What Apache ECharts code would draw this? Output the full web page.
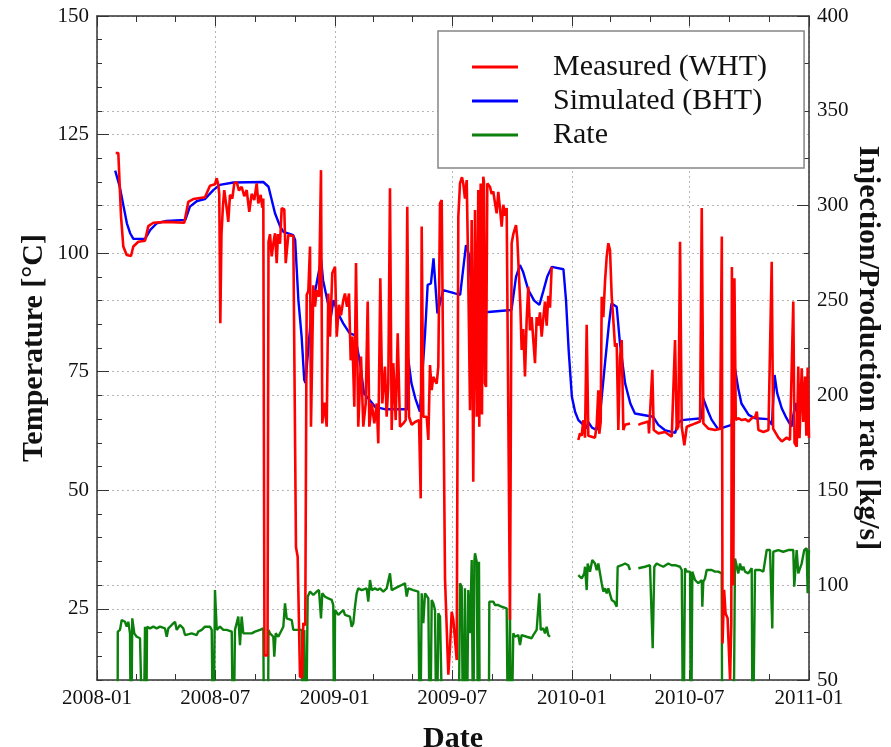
<!DOCTYPE html>
<html>
<head>
<meta charset="utf-8">
<script src="https://cdn.jsdelivr.net/npm/echarts@6/dist/echarts.min.js"></script>
<style>
  html, body { margin: 0; padding: 0; background: #fff; }
  #chart { width: 891px; height: 747px; }
</style>
</head>
<body>
<div id="chart"></div>
<script>
// Monitoring record: each point is [elapsed days since 2008-01-01, value]; null marks a gap in logging.
const START_DATE = '2008-01-01';

// Measured wellhead temperature [°C]
const measuredWHT = [
  [28.8,121.1],[32.8,121.1],[37.0,107.7],[40.5,101.4],[45.7,99.6],[52.3,99.4],[55.9,101.4],[63.6,102.4],[73.9,102.6],
  [79.0,105.7],[86.7,106.4],[106.2,106.6],[134.4,106.4],[140.5,110.8],[148.2,111.4],[166.2,111.8],[173.9,114.2],
  [181.6,114.5],[184.3,115.8],[186.7,114.4],[188.2,112.5],[189.8,85.2],[191.6,104],[193.9,110],[195.9,113.3],
  [199.6,109.5],[202.1,106.6],[204.7,112.3],[208.3,111.5],[211.3,114.7],[215.0,115.0],[218.6,113.2],[222.7,114.0],
  [226.7,112.0],[230.4,113.3],[234.4,108.7],[238.1,112.5],[242.1,111.2],[245.8,114.7],[248.3,110.5],[252.0,112.3],
  [254.4,109.6],[256.0,111.5],[257.8,15.2],[262.5,15.2],[264.0,102.4],[266.3,104.0],[268.9,99.3],[270.9,101.5],
  [274.0,104.2],[276.6,97.9],[278.6,104.0],[281.7,102.0],[284.3,109.5],[288.3,109.2],[290.5,97.9],[294.5,103.8],
  [302.2,103.6],[306.3,38],[308.9,36],[312.5,10.7],[315.6,10.5],[317.6,22],[320.6,21.5],[322.8,91.2],[325.3,92.0],
  [327.9,101.4],[329.4,63.4],[333.0,93.2],[335.6,88.7],[338.2,92.2],[341.7,90.8],[344.8,117.5],[346.8,64.1],
  [349.9,68.5],[353.6,63.4],[356.0,91.5],[358.7,82.4],[362.2,95.8],[366.4,97.1],[369.0,82.4],[372.5,89.1],
  [375.6,86.9],[379.1,90.1],[381.7,91.5],[384.8,88.7],[387.9,91.5],[390.5,77.4],[393.0,82.4],[396.1,67.6],
  [398.7,97.9],[402.2,63.4],[406.4,78.2],[409.9,63.4],[413.6,68.3],[416.7,89.8],[419.2,63.4],[422.9,68.3],
  [426.9,64.1],[430.6,68.3],[433.0,59.9],[436.1,94.7],[439.2,68.3],[443.3,76.1],[445.9,65.5],[448.4,72.5],
  [451.0,113.7],[453.6,62.7],[456.1,76.8],[459.8,64.8],[462.9,83.1],[466.4,63.4],[471.5,64.1],[475.2,64.8],
  [477.6,109.8],[480.3,65.5],[484.4,63.8],[489.5,64.4],[495.7,64.8],[498.3,48.3],[499.8,105.6],[502.3,65.5],
  [507.5,65.5],[510.0,60.6],[512.6,76.4],[515.2,71.1],[517.7,73.9],[522.9,72.5],[525.4,76.1],[528.0,110.5],
  [530.6,111.2],[533.1,111.2],[535.7,31.4],[540.8,11.1],[543.4,17],[546.0,24.4],[548.5,22.7],[553.7,14.2],
  [556.2,107.7],[558.8,114.7],[561.8,116],[563.8,114.7],[566.4,111.5],[569.1,115.4],[571.1,99],[574.2,66.9],
  [576.8,107],[579.2,51.8],[581.9,109.1],[584.5,65.5],[586.9,113.3],[588.5,63.4],[590.6,114.7],[592.6,66],
  [594.6,116.1],[595.7,115],[597.2,72.6],[598.8,71.8],[600.8,114.7],[604.9,114.0],[607.5,112.5],[610.0,113.0],
  [612.6,110.6],[615.2,108.4],[617.7,112.9],[620.3,109.5],[622.9,105.6],[625.4,110.2],[628.0,107.9],[630.6,109.5],
  [633.1,109.1],[635.7,22.7],[638.3,102.1],[640.8,104],[645.0,105.9],[647.0,103],[649.6,95.0],[651.6,89.2],
  [653.7,79.6],[656.2,84.0],[658.8,74.0],[661.4,86],[663.9,92.9],[666.5,83.7],[669.1,86.5],[671.6,81.7],
  [674.2,76.8],[676.8,86.5],[679.3,84.7],[681.9,87.5],[684.5,82.4],[687.0,86.3],[689.6,89.8],[692.2,84.7],
  [694.7,91.0],[697.3,88.5],[699.9,97.1],
  null,
  [740.9,60.6],[743.5,62.0],[746.1,61.5],[748.6,64.8],[751.2,61.1],[753.8,84.9],[756.3,61.5],[761.5,61.3],
  [766.6,61.1],[769.2,63.8],[771.7,71.1],[773.2,61.9],[775.4,64.5],[776.9,90.8],[779.4,86.5],[782.0,94.0],
  [784.6,99.3],[787.1,102.1],[789.7,100.6],[792.3,90.8],[794.8,85.9],[797.4,80.3],[800.0,81.0],[802.5,62.7],
  [805.1,78.0],[807.7,81.7],[810.2,62.7],[812.8,63.8],[820.5,64.1],
  null,
  [833.3,63.8],[838.5,64.1],[848.7,64.5],[849.7,62.0],[854.8,75.4],[857.0,62.7],[864.0,62.0],[874.4,62.3],
  [884.7,61.3],[889.8,81.7],[892.4,62.7],[894.9,63.4],[897.5,102.4],[900.1,63.4],[904.1,59.5],[907.8,63.4],
  [915.5,63.8],[920.6,64.1],[928.3,64.5],[930.9,109.5],[933.4,64.1],[941.1,63.0],[951.5,62.7],[959.2,63.0],
  [961.8,103.5],[962.9,17.7],[965.3,29.0],[967.6,24],[970.7,23],[974.5,10],[976.4,22],[977.3,97.1],[979.5,30],
  [981.2,94.7],[983.3,64.8],[986.9,65.2],[992.6,64.8],[997.8,65.0],[1002.8,64.5],[1008.0,65.2],[1013.1,65.5],
  [1015.7,66.6],[1018.2,62.7],[1025.9,62.3],[1033.6,62.7],[1038.6,98.2],[1040.8,63.0],[1048.9,61.1],[1054.2,60.3],
  [1061.6,61.1],[1066.7,60.6],[1071.8,89.8],[1073.7,60.0],[1077.1,59.2],[1079.5,76.1],[1081.4,61],[1084.8,75.7],
  [1087.2,64.4],[1089.9,74.0],[1091.9,61.5],[1094.0,75.9],[1096.0,61.0]
];

// Simulated bottomhole temperature [°C]
const simulatedBHT = [
  [28,117.4],[30,117.3],[35,114.0],[41,109.8],[46,106.3],[51,104.2],[56,103.0],[74,103.0],[82,104.9],[92,106.3],
  [107,106.8],[136,107.0],[143,109.8],[154,111.0],[166,111.4],[179,113.3],[189,114.4],[210,114.9],[256,115.0],
  [264,114.0],[269,111.2],[274,108.4],[282,105.6],[287,104.5],[302,103.8],[305,102.8],[310,90.1],[315,82.4],
  [319,73.3],[321,72.6],[325,79.6],[331,88.7],[338,93.6],[345,98.6],[348,94.3],[356,89.1],[360,86.6],[364,90.1],
  [371,87.3],[379,85.2],[389,83.1],[397,82.7],[405,76.8],[411,70.4],[420,69.0],[428,67.6],[443,67.1],[478,67.1],
  [479,77.8],[484,72.6],[490,69.4],[497,66.6],[505,83.1],[509,93.3],[514,93.6],[518,98.9],[524,87.3],[533,92.2],
  [551,91.5],[559,91.2],[568,101.7],[573,99.5],[578,88.4],[580,87.5],[602,87.6],[638,88.0],[645,95.0],[651,97.5],
  [656,96.0],[664,92.2],[673,90.0],[681,89.1],[687,92.0],[693,95.0],[700,97.1],[718,96.6],[722,90.0],[726,79.6],
  [731,69.7],[736,66.5],[741,64.8],[754,63.1],[756,64.4],[762,63.2],[769,62.7],[774,65.5],[782,76.8],[788,85.0],
  [792,89.4],[800,88.7],[805,81.0],[813,72.5],[821,68.3],[828,66.2],[856,65.5],[864,63.8],[874,62.7],[890,62.1],
  [894,64.1],[900,64.8],[931,65.2],[933,69.4],[941,66.5],[946,64.9],[956,62.9],[977,63.8],[982,75.7],[987,71.5],
  [992,68.3],[1003,65.9],[1013,65.2],[1033,65.0],[1039,63.8],[1043,74.3],[1047,70.5],[1054,67.3],[1061,65.3],
  [1069,63.4],[1075,68.4],[1079,65.3],[1085,70.1],[1089,68.0],[1094,67.3]
];

// Injection/production rate [kg/s]
const rate = [
  [31.6,0],[32.0,75.5],[35.4,76.4],[38.0,81.6],[43.1,80.7],[45.7,78.1],[48.2,80.7],[50.8,74.6],[52.3,0],[54.3,82.5],
  [57.4,74.6],[61.1,72.8],[66.2,72.0],[68.8,72.8],[71.3,0],[73.9,78.1],[75.4,0],[77.0,78.1],[81.6,77.2],[86.7,78.1],
  [91.9,77.2],[97.0,78.1],[104.7,77.2],[107.3,72.8],[109.8,77.2],[115.0,79.0],[120.1,80.7],[122.7,76.4],[127.8,79.0],
  [132.8,77.2],[135.5,73.7],[145.8,74.6],[153.5,73.7],[155.9,75.5],[161.2,76.4],[166.2,78.1],[173.9,78.1],[176.6,76.4],
  [179.0,0],[181.6,97.4],[184.3,76.4],[189.3,78.1],[194.4,76.4],[199.6,76.4],[207.4,75.5],[209.8,0],[212.4,76.4],
  [217.5,83.4],[220.1,68.4],[222.7,83.4],[225.2,74.6],[230.4,74.6],[238.1,74.6],[243.2,75.5],[250.9,76.4],[256.0,77.2],
  [257.5,0],[262.8,0],[264.0,76.4],[266.3,74.6],[271.4,72.8],[272.9,62.3],[275.1,74.6],[279.1,72.8],[281.7,74.6],
  [284.3,76.4],[286.8,78.1],[289.4,90.4],[292.0,82.5],[294.5,83.4],[299.7,81.6],[302.2,76.4],[309.9,76.4],[315.1,76.4],
  [317.6,0],[319.1,76.4],[321.3,0],[324.3,93.9],[327.9,96.6],[333.0,94.8],[338.2,96.6],[341.7,97.4],[344.8,82.5],
  [346.8,95.7],[351.0,93.9],[356.0,93.0],[361.3,92.2],[363.7,89.5],[365.3,0],[366.4,86.9],[371.4,84.3],[379.1,86.9],
  [381.7,84.3],[389.4,83.4],[392.0,78.1],[394.5,79.9],[397.1,88.6],[399.7,95.7],[402.2,98.3],[407.4,97.4],[415.1,98.3],
  [417.6,91.3],[420.2,102.7],[422.9,97.4],[427.9,98.3],[432.1,97.4],[435.6,98.3],[440.7,96.6],[445.9,98.3],[451.0,106.2],
  [453.6,97.4],[458.7,98.3],[463.8,99.2],[469.0,100.1],[474.1,101.0],[476.7,94.0],[479.2,98.3],[486.9,97.4],[494.6,96.6],
  [497.2,0],[499.8,95.7],[502.3,79.9],[504.9,95.7],[510.0,93.0],[512.6,0],[515.2,92.2],[517.7,90.4],[520.3,86.9],
  [522.9,0],[525.4,85.2],[528.0,83.4],[530.6,84.3],[533.1,0],[556.2,0],[558.8,101.0],[561.4,99.2],[563.8,0],[566.4,98.3],
  [569.1,0],[571.5,97.4],[574.2,74.7],[576.8,113.2],[579.2,0],[580.8,112.3],[581.9,116.8],[584.5,112.3],[586.9,0],
  [588.0,112.3],[589.5,0],[602.9,0],[603.9,91.3],[610.0,91.3],[612.6,89.5],[617.7,89.5],[622.9,88.6],[630.6,87.8],
  [633.1,0],[635.7,87.8],[637.3,0],[640.8,74.6],[643.4,72.8],[648.5,73.7],[651.1,68.4],[653.7,73.7],[661.4,72.8],
  [669.1,72.0],[671.6,73.7],[676.8,76.4],[679.3,76.4],[680.9,95.7],[683.0,76.4],[687.0,77.2],[689.6,74.6],[692.2,78.1],
  [694.7,73.7],[697.3,72.8],
  null,
  [740.9,105.3],[746.1,103.5],[750.1,106.2],[751.2,109.7],[753.8,97.4],[755.3,111.4],[758.9,107.1],[762.4,113.2],
  [766.6,111.4],[769.2,107.9],[771.7,111.4],[774.3,110.5],[776.9,101.0],[779.4,96.6],[782.0,98.3],[784.6,95.7],
  [787.1,98.3],[789.7,97.4],[792.3,92.2],[796.3,91.3],[800.0,88.6],[801.5,109.7],[807.7,110.5],[812.8,111.4],
  [817.8,110.5],[820.5,108.0],
  null,
  [833.3,108.9],[843.5,109.7],[851.2,110.5],[853.8,109.7],[855.4,66.7],[857.9,109.7],[861.5,111.4],[866.6,110.5],
  [871.7,109.7],[879.4,111.4],[884.6,110.5],[889.8,110.5],[897.4,109.7],[900.1,108.0],[902.5,0],[905.1,108.9],
  [907.8,107.1],[910.2,108.0],[912.9,107.1],[914.4,0],[916.4,107.1],[917.9,108.0],[920.6,102.7],[925.6,101.0],
  [930.9,102.7],[931.8,88.6],[933.3,101.8],[935.9,103.5],[938.5,108.0],[941.0,108.9],[946.2,108.0],[951.3,107.1],
  [956.4,107.1],[961.6,106.2],[962.5,0],[979.5,0],[982.1,114.1],[984.7,113.2],[987.2,106.2],[989.8,111.4],[992.4,107.9],
  [994.9,109.7],[997.5,107.1],[1002.6,106.2],[1007.8,108.9],[1009.3,0],[1012.9,108.0],[1015.5,107.1],[1020.6,108.0],
  [1025.7,107.1],[1028.3,108.0],[1030.9,118.5],[1036.0,118.5],[1038.6,117.6],[1039.5,77.2],[1041.0,117.6],
  [1048.7,118.5],[1056.4,117.6],[1064.1,118.5],[1071.8,118.5],[1073.3,99.2],[1077.0,118.5],[1079.5,106.2],
  [1082.1,106.2],[1084.7,111.4],[1088.7,118.5],[1092.4,119.4],[1093.9,95.7],[1096.0,118.5]
];

// Axis ticks
const dateTicks = ['2008-01-01','2008-07-01','2009-01-01','2009-07-01','2010-01-01','2010-07-01','2011-01-01'];
const minorDateTicks = ['2008-03-01','2008-05-01','2008-09-01','2008-11-01','2009-03-01','2009-05-01',
                        '2009-09-01','2009-11-01','2010-03-01','2010-05-01','2010-09-01','2010-11-01'];
const tempTicks = [25, 50, 75, 100, 125, 150];
const tempRange = [10, 150];
const rateRange = [50, 400];

const DAY_MS = 86400000;
function parseDay(s) {
  const [y, m, d] = s.split('-').map(Number);
  return Date.UTC(y, m - 1, d);
}
const t0 = parseDay(START_DATE);
const toSeries = arr => arr.map(p => (p === null ? ['-', '-'] : [t0 + p[0] * DAY_MS, p[1]]));
const majorX = dateTicks.map(parseDay);
const minorX = minorDateTicks.map(parseDay);
const xMin = majorX[0], xMax = majorX[majorX.length - 1];

const FONT = 'Liberation Serif';
const INK = '#111';
const AXIS_LINE = { show: true, onZero: false, lineStyle: { color: '#333', width: 1.5 } };
const GRID_LINE = { show: true, lineStyle: { color: '#b5b5b5', width: 1, type: [2, 3] } };

// timestamps (UTC ms) shown as YYYY-MM
const fmtMonth = v => {
  const d = new Date(v);
  return d.getUTCFullYear() + '-' + String(d.getUTCMonth() + 1).padStart(2, '0');
};

const tickAxisX = (position, values, len, withLine) => ({
  type: 'value', position, min: xMin, max: xMax,
  axisLine: withLine ? AXIS_LINE : { show: false },
  axisTick: { show: true, inside: true, length: len, customValues: values, lineStyle: { color: '#333', width: 1 } },
  axisLabel: { show: false },
  splitLine: { show: false }
});

const chart = echarts.init(document.getElementById('chart'), null, { renderer: 'canvas' });
chart.setOption({
  animation: false,
  backgroundColor: '#fff',
  textStyle: { fontFamily: FONT },
  grid: { left: 97, right: 82, top: 16, bottom: 67, containLabel: false, outerBoundsMode: 'none' },
  legend: {
    data: ['Measured (WHT)', 'Simulated (BHT)', 'Rate'],
    orient: 'vertical',
    left: 438, top: 31,
    padding: [19, 37, 16, 34],
    itemGap: 0,
    icon: 'rect',
    itemWidth: 46, itemHeight: 3,
    backgroundColor: '#fff',
    borderColor: '#858585', borderWidth: 1.5,
    selectedMode: false,
    textStyle: { fontFamily: FONT, fontSize: 30, color: INK, lineHeight: 34, padding: [0, 0, 0, 30] }
  },
  xAxis: [
    {
      type: 'value', position: 'bottom', min: xMin, max: xMax,
      name: 'Date', nameLocation: 'middle', nameGap: 44, nameMoveOverlap: false,
      nameTextStyle: { fontFamily: FONT, fontSize: 30, fontWeight: 'bold', color: INK },
      axisLine: AXIS_LINE,
      axisTick: { show: true, inside: true, length: 10, customValues: majorX, lineStyle: { color: '#333', width: 1 } },
      axisLabel: { show: true, customValues: majorX, formatter: fmtMonth, fontFamily: FONT, fontSize: 21, color: INK, margin: 8 },
      splitLine: GRID_LINE
    },
    tickAxisX('bottom', minorX, 6, false),
    tickAxisX('top', majorX, 10, true),
    tickAxisX('top', minorX, 6, false)
  ],
  yAxis: [
    {
      type: 'value', position: 'left', min: tempRange[0], max: tempRange[1],
      name: 'Temperature [°C]', nameLocation: 'middle', nameGap: 48, nameRotate: 90, nameMoveOverlap: false,
      nameTextStyle: { fontFamily: FONT, fontSize: 30, fontWeight: 'bold', color: INK },
      axisLine: AXIS_LINE,
      axisTick: { show: true, inside: true, length: 12, customValues: tempTicks, lineStyle: { color: '#333', width: 1 } },
      axisLabel: { show: true, customValues: tempTicks, fontFamily: FONT, fontSize: 21, color: INK, margin: 8 },
      splitLine: GRID_LINE
    },
    {
      type: 'value', position: 'right', min: rateRange[0], max: rateRange[1], interval: 50,
      name: 'Injection/Production rate [kg/s]', nameLocation: 'middle', nameGap: 44, nameRotate: -90, nameMoveOverlap: false,
      nameTextStyle: { fontFamily: FONT, fontSize: 30, fontWeight: 'bold', color: INK },
      axisLine: AXIS_LINE,
      axisTick: { show: true, inside: true, length: 12, lineStyle: { color: '#333', width: 1 } },
      minorTick: { show: true, splitNumber: 2, length: 5, lineStyle: { color: '#333', width: 1 } },
      axisLabel: { show: true, fontFamily: FONT, fontSize: 21, color: INK, margin: 8 },
      splitLine: GRID_LINE
    },
    {
      type: 'value', position: 'left', min: tempRange[0], max: tempRange[1], interval: 5,
      axisLine: { show: false },
      axisTick: { show: true, inside: true, length: 5, lineStyle: { color: '#333', width: 1 } },
      axisLabel: { show: false },
      splitLine: { show: false }
    }
  ],
  series: [
    {
      name: 'Rate', type: 'line', xAxisIndex: 0, yAxisIndex: 1,
      data: toSeries(rate), showSymbol: false, symbol: 'none', connectNulls: false,
      lineStyle: { color: '#0c800c', width: 2.4 }, itemStyle: { color: '#0c800c' }, z: 2
    },
    {
      name: 'Simulated (BHT)', type: 'line', xAxisIndex: 0, yAxisIndex: 0,
      data: toSeries(simulatedBHT), showSymbol: false, symbol: 'none',
      lineStyle: { color: '#0000ff', width: 2.4 }, itemStyle: { color: '#0000ff' }, z: 3
    },
    {
      name: 'Measured (WHT)', type: 'line', xAxisIndex: 0, yAxisIndex: 0,
      data: toSeries(measuredWHT), showSymbol: false, symbol: 'none', connectNulls: false,
      lineStyle: { color: '#ff0000', width: 2.6 }, itemStyle: { color: '#ff0000' }, z: 4
    }
  ]
});
</script>
</body>
</html>
